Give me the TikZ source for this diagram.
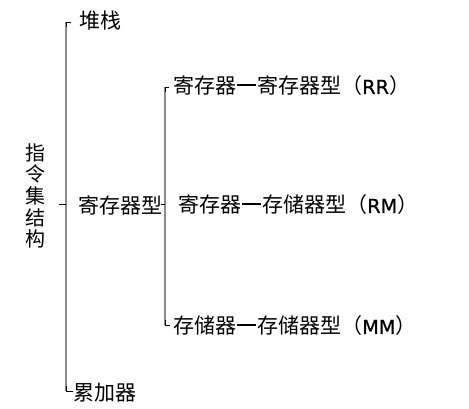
\documentclass[tikz,border=0pt]{standalone}
\usepackage{fontspec}
\setmainfont{Noto Sans CJK SC}
\newfontfamily\latinfont[FakeBold=0.8,Scale=0.92]{DejaVu Sans}
\newcommand{\bardash}{\makebox[1em][c]{\rule[0.36em]{0.92em}{0.11em}}}
\begin{document}
\begin{tikzpicture}[x=1pt,y=-1pt,
  lbl/.style={font=\fontsize{21}{21.7}\selectfont, inner sep=0pt, anchor=west},
  vline/.style={draw=gray!90, line width=2pt},
  hook/.style={draw=black, line width=0.9pt}]
\useasboundingbox (0,0) rectangle (469,409);
% nodes
\node[font=\fontsize{20}{21.7}\selectfont, align=center, inner sep=0pt] (root) at (35,196) {指\\令\\集\\结\\构};
\node[lbl] (stack) at (79,21) {堆栈};
\node[lbl] (reg) at (78,205) {寄存器型};
\node[lbl] (acc) at (73,393) {累加器};
\node[lbl] (rr) at (173,86) {寄存器\bardash 寄存器型（{\latinfont RR}）};
\node[lbl] (rm) at (178,205) {寄存器\bardash 存储器型（{\latinfont RM}）};
\node[lbl] (mm) at (173,326) {存储器\bardash 存储器型（{\latinfont MM}）};
% bracket 1
\coordinate (b1t) at (66,22);
\coordinate (b1b) at (66,391);
\coordinate (b1m) at (66,204);
\coordinate (b1l) at (59,204);
\coordinate (b1tr) at (71,22);
\coordinate (b1br) at (73,391);
\draw[vline] (b1t) -- (b1b);
\draw[hook] (b1tr) -- (b1t) -- ++(0,5);
\draw[hook] (b1br) -- (b1b) -- ++(0,-5);
\draw[hook] (b1m) -- (b1l);
% bracket 2
\coordinate (b2t) at (165,87);
\coordinate (b2b) at (165,325);
\coordinate (b2m) at (165,204);
\coordinate (b2l) at (161,204);
\coordinate (b2tr) at (169,87);
\coordinate (b2br) at (170,325);
\draw[vline] (b2t) -- (b2b);
\draw[hook] (b2tr) -- (b2t) -- ++(0,5);
\draw[hook] (b2br) -- (b2b) -- ++(0,-5);
\draw[hook] (b2m) -- (b2l);
\end{tikzpicture}
\end{document}
